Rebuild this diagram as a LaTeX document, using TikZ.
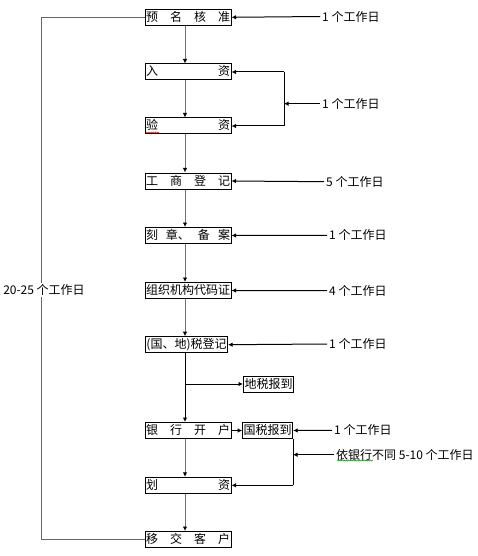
\documentclass[tikz,border=0pt]{standalone}
\usepackage{fontspec}
\newfontfamily\cjk{Noto Sans CJK SC}
\usetikzlibrary{arrows.meta,decorations.pathmorphing}
\begin{document}
\begin{tikzpicture}[x=1pt,y=-1pt,
  box/.style={draw,line width=1pt,inner xsep=1pt,inner ysep=2pt,text height=10pt,text depth=2pt,font=\cjk\fontsize{12}{12}\selectfont},
  lbl/.style={anchor=west,inner xsep=2pt,inner ysep=0pt,font=\cjk\fontsize{12}{12}\selectfont},
  arr/.style={line width=1pt,-{Latex[length=4.5pt,width=4.5pt]}},
  garr/.style={line width=1pt,draw=black!55,-{Latex[length=4.5pt,width=4.5pt,color=black]}},
  gline/.style={line width=1pt,draw=black!60},
  squig/.style={line width=0.5pt,decorate,decoration={snake,amplitude=0.6pt,segment length=2.2pt}},
]
\useasboundingbox (0,0) rectangle (477,556);
\coordinate (ax) at (185,0);
\coordinate (bx) at (284,0);
\coordinate (cx) at (293,0);
\coordinate (lx) at (41.5,0);
% main column
\node[box] (yu) at (188,17.3) {\makebox[84pt][s]{预\hfill 名\hfill 核\hfill 准}};
\node[box] (ru) at (188,72) {\makebox[84pt][s]{入\hfill 资}};
\node[box] (yz) at (188,126) {\makebox[84pt][s]{验\hfill 资}};
\node[box] (gs) at (188,181) {\makebox[84pt][s]{工\hfill 商\hfill 登\hfill 记}};
\node[box] (kz) at (188,235.5) {\makebox[84pt][s]{刻\hfill 章、\hfill 备\hfill 案}};
\node[box] (zz) at (188,290.5) {\makebox[84pt][s]{组\hfill 织\hfill 机\hfill 构\hfill 代\hfill 码\hfill 证}};
\node[box] (sd) at (186.5,344.7) {(国、地)税登记};
\node[box] (ds) at (268.5,384) {地税报到};
\node[box] (yh) at (188,430.5) {\makebox[84pt][s]{银\hfill 行\hfill 开\hfill 户}};
\node[box] (gb) at (267.7,430.5) {国税报到};
\node[box] (hz) at (188,485.3) {\makebox[84pt][s]{划\hfill 资}};
\node[box] (yj) at (188,539.5) {\makebox[84pt][s]{移\hfill 交\hfill 客\hfill 户}};
% main arrows
\draw[garr] (yu.south -| ax) -- (ru.north -| ax);
\draw[garr] (ru.south -| ax) -- (yz.north -| ax);
\draw[garr] (yz.south -| ax) -- (gs.north -| ax);
\draw[garr] (gs.south -| ax) -- (kz.north -| ax);
\draw[garr] (kz.south -| ax) -- (zz.north -| ax);
\draw[garr] (zz.south -| ax) -- (sd.north -| ax);
\draw[arr] (sd.south -| ax) -- (yh.north -| ax);
\draw[arr] (ds.west -| ax) -- (ds.west);
\draw[garr] (yh.south -| ax) -- (hz.north -| ax);
\draw[garr] (hz.south -| ax) -- (yj.north -| ax);
\draw[arr] (yh.east) -- (gb.west);
% right labels
\node[lbl] (l1) at (320,16.5) {1 个工作日};
\node[lbl] (l2) at (320,103.7) {1 个工作日};
\node[lbl] (l3) at (324,181.7) {5 个工作日};
\node[lbl] (l4) at (327,235.3) {1 个工作日};
\node[lbl] (l5) at (327,290.7) {4 个工作日};
\node[lbl] (l6) at (327,344) {1 个工作日};
\node[lbl] (l7) at (332,430.3) {1 个工作日};
\node[lbl] (l8) at (334,454.7) {依银行不同 5-10 个工作日};
\draw[arr] (l1.west) -- (yu.east);
\draw[arr] (l3.west) -- (gs.east);
\draw[arr] (l4.west) -- (kz.east);
\draw[arr] (l5.west) -- (zz.east);
\draw[arr] (l6.west) -- (sd.east);
\draw[arr] (l7.west) -- (gb.east);
% bracket for ru / yz
\draw[arr] (ru.east -| bx) -- (ru.east);
\draw[arr] (yz.east -| bx) -- (yz.east);
\draw[line width=1pt] (ru.east -| bx) -- (yz.east -| bx);
\draw[arr] (l2.west) -- (l2.west -| bx);
% bracket from gb to hz
\draw[line width=1pt] (gb.south -| cx) -- (hz.east -| cx);
\draw[arr] (hz.east -| cx) -- (hz.east);
\draw[arr] (l8.west) -- (l8.west -| cx);
% left bracket
\draw[gline] (yu.west) -- (yu.west -| lx) -- (yj.west -| lx) -- (yj.west);
\node[fill=white,inner xsep=0.5pt,inner ysep=1pt,font=\cjk\fontsize{12}{12}\selectfont] (lt) at (44,290) {20-25 个工作日};
% spell-check squiggles
\draw[squig,red] (146,132.6) -- (159,132.6);
\draw[squig,green!60!black] (337,460.5) -- (373,460.5);
\end{tikzpicture}
\end{document}
